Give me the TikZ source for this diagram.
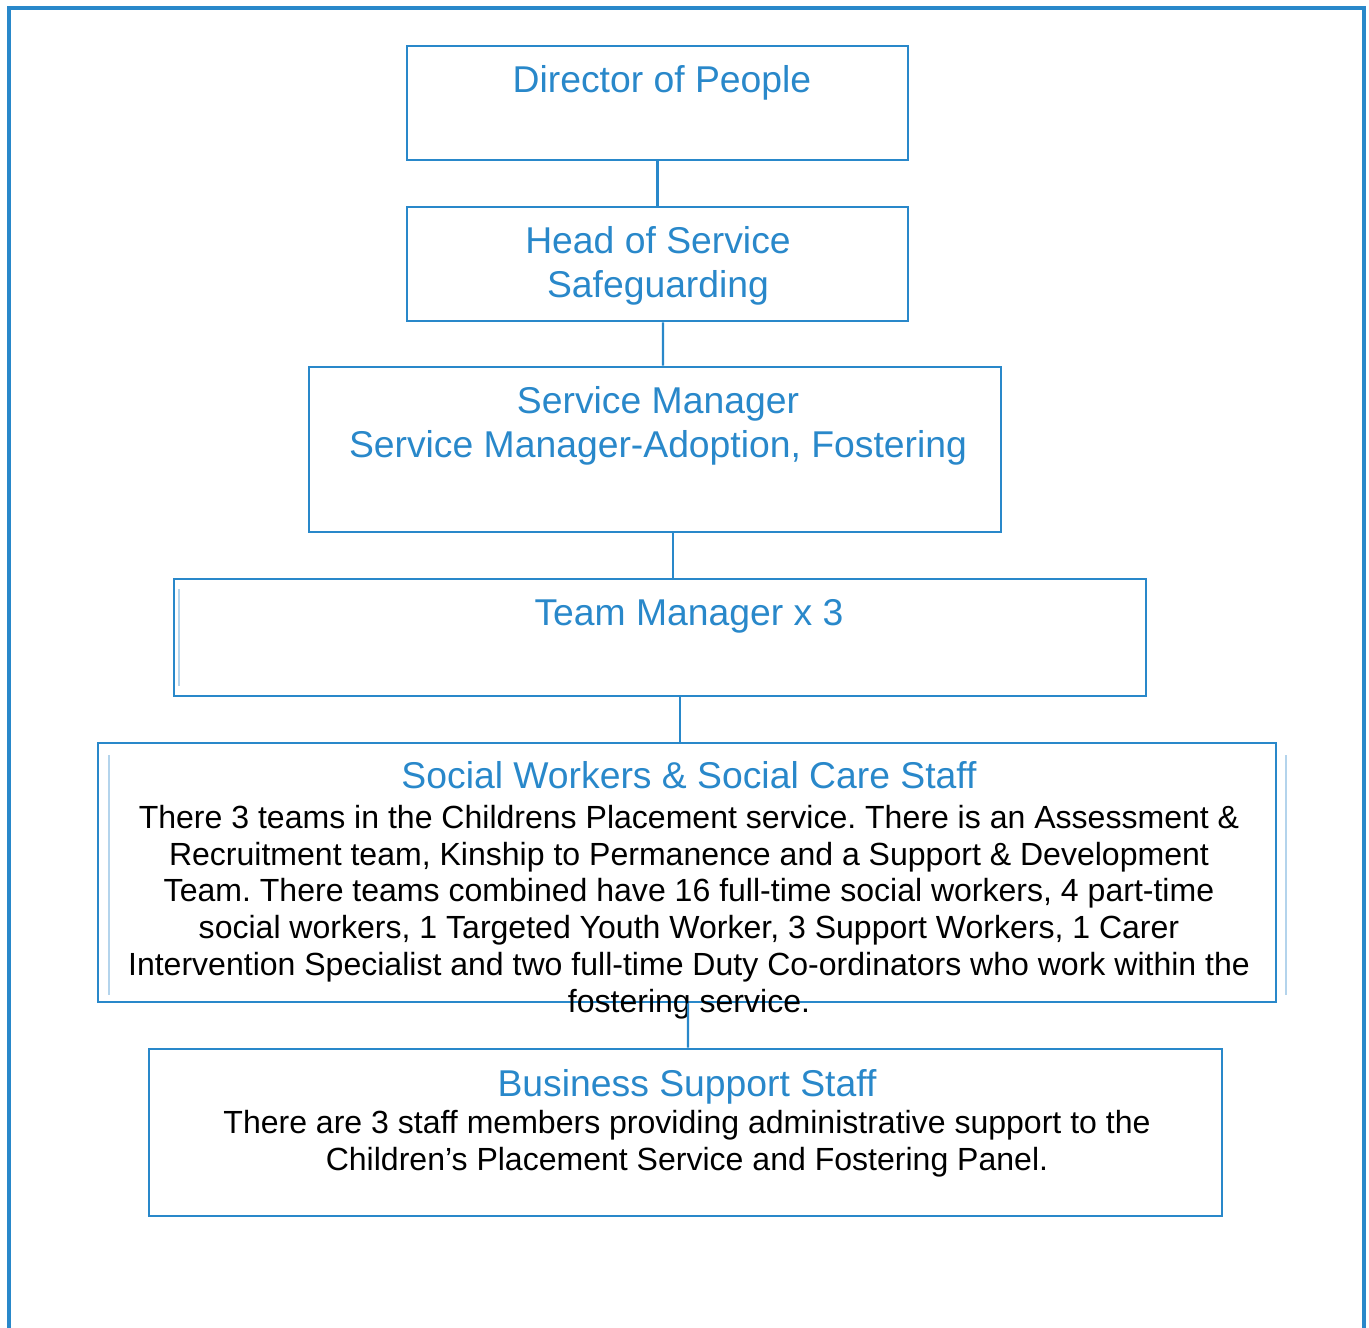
\documentclass[tikz,border=0pt]{standalone}
\usepackage{fontspec}
\setmainfont{Liberation Sans}
\usepackage{tikz}
\usetikzlibrary{fit, calc, positioning}
\definecolor{orgblue}{RGB}{41,136,202}
\definecolor{paleblue}{RGB}{180,212,236}
\newcommand{\titlefont}{\fontsize{13.8}{16.1}\selectfont\color{orgblue}}
\newcommand{\bodyfont}{\fontsize{11.85}{13.6}\selectfont}
\frenchspacing
\tikzstyle{box} = [rectangle, draw=orgblue, line width=1.1pt, inner sep=0pt]
\tikzstyle{heading} = [anchor=north, inner sep=0pt, align=center, font=\titlefont]
\tikzstyle{bodytext} = [anchor=north, inner sep=0pt, align=center, font=\bodyfont]
\tikzstyle{link} = [orgblue, line width=0.75pt]
\tikzstyle{ghost} = [paleblue, line width=0.5pt]

\begin{document}
\begin{tikzpicture}[x=0.013cm, y=-0.013cm]
	\useasboundingbox (0,0) rectangle (1369,1328);
	% outer frame
	\draw [orgblue, line width=1.15pt] (9,1328) -- (9,8) -- (1364,8) -- (1364,1328);
	
	% boxes
	\node (dir) [box, fit={(407,46) (908,160)}] {};
	\node (hos) [box, fit={(407,207) (908,321)}] {};
	\node (sm) [box, fit={(309,367) (1001,532)}] {};
	\node (tm) [box, fit={(174,579) (1146,696)}] {};
	\node (sw) [box, fit={(98,743) (1276,1002)}] {};
	\node (bss) [box, fit={(149,1049) (1222,1216)}] {};
	\draw [ghost] (179,589) -- (179,686);
	\draw [ghost] (109,755) -- (109,995);
	\draw [ghost] (1286,755) -- (1286,995);
	
	% texts
	\node (dirtext) [heading] at (662,65) {Director of People};
	\node (hostext) [heading] at (658,226) {Head of Service\\Safeguarding};
	\node (smtext) [heading] at (658,386) {Service Manager\\Service Manager-Adoption, Fostering};
	\node (tmtext) [heading] at (689,599) {Team Manager x 3};
	\node (swtext) [bodytext] at (689,761) {{\titlefont Social Workers \& Social Care Staff}\\[1.1pt]
		There 3 teams in the Childrens Placement service. There is an Assessment \&\\
		Recruitment team, Kinship to Permanence and a Support \& Development\\
		Team. There teams combined have 16 full-time social workers, 4 part-time\\
		social workers, 1 Targeted Youth Worker, 3 Support Workers, 1 Carer\\
		Intervention Specialist and two full-time Duty Co-ordinators who work within the\\
		fostering service.};
	\node (bsstext) [bodytext] at (687,1069) {{\titlefont Business Support Staff}\\
		There are 3 staff members providing administrative support to the\\
		Children’s Placement Service and Fostering Panel.};
	
	% reporting lines
	\draw [link] (dir) -- (hos);
	\draw [link] ($(hos.south)+(5.5,0)$) -- ($(sm.north)+(8,0)$);
	\draw [link] ($(sm.south)+(18,0)$) -- ($(tm.north)+(13,0)$);
	\draw [link] ($(tm.south)+(20,0)$) -- ($(sw.north)+(-7,0)$);
	\draw [link] ($(sw.south)+(1,0)$) -- ($(bss.north)+(2.5,0)$);
\end{tikzpicture}
\end{document}
